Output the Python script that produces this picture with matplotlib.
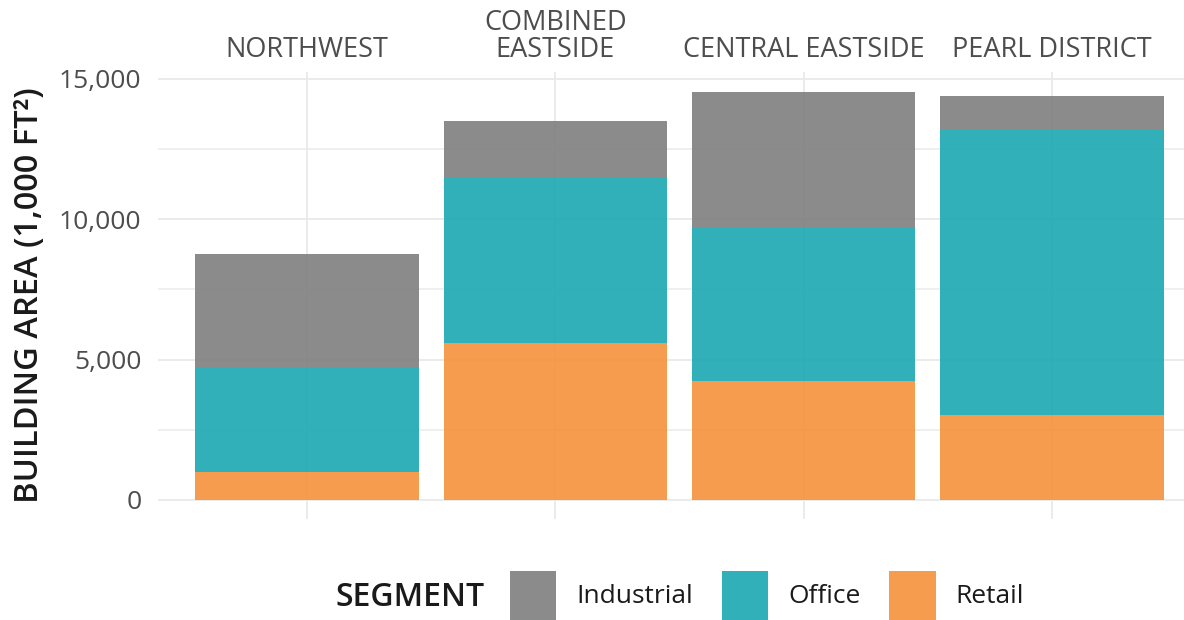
import matplotlib.pyplot as plt
import numpy as np
from matplotlib.patches import Patch
from matplotlib.ticker import FuncFormatter, MultipleLocator

plt.rcParams['font.family'] = ['Open Sans', 'DejaVu Sans']

districts = ["NORTHWEST", "COMBINED\nEASTSIDE", "CENTRAL EASTSIDE", "PEARL DISTRICT"]
retail = [1000, 5600, 4250, 3030]
office = [3700, 5900, 5450, 10200]
industrial = [4050, 2000, 4850, 1150]

segments = ["Industrial", "Office", "Retail"]
colors = {"Industrial": "#7f7f7f", "Office": "#1ca8b3", "Retail": "#f4913b"}

fig = plt.figure(figsize=(11.84, 6.2), dpi=100)
ax = fig.add_axes([0.1334, 0.163, 0.881, 0.721])

x = np.arange(len(districts))
retail = np.array(retail)
office = np.array(office)
industrial = np.array(industrial)

ax.bar(x, retail, width=0.9, color=colors["Retail"], alpha=0.9, zorder=2)
ax.bar(x, office, width=0.9, bottom=retail, color=colors["Office"], alpha=0.9, zorder=2)
ax.bar(x, industrial, width=0.9, bottom=retail + office, color=colors["Industrial"], alpha=0.9, zorder=2)

ax.set_xlim(-0.6, len(districts) - 0.4)
ax.set_ylim(-680, 15250)

# category labels on top
ax.xaxis.tick_top()
ax.set_xticks(x)
ax.set_xticklabels(districts, fontsize=19.5, color="#4d4d4d", linespacing=0.92)
ax.tick_params(axis='x', length=0, pad=6)

ax.yaxis.set_major_locator(MultipleLocator(5000))
ax.yaxis.set_minor_locator(MultipleLocator(2500))
ax.yaxis.set_major_formatter(FuncFormatter(lambda v, p: f"{v:,.0f}"))
ax.tick_params(axis='y', which='both', length=0, pad=12, labelsize=19, labelcolor="#4d4d4d")

ax.grid(True, which='major', color="#ebebeb", linewidth=1.4, zorder=0)
ax.grid(True, which='minor', axis='y', color="#ebebeb", linewidth=1.1, zorder=0)
ax.set_axisbelow(True)
for s in ax.spines.values():
    s.set_visible(False)

ax.set_ylabel("BUILDING AREA (1,000 FT²)", fontsize=23.5, color="#1a1a1a",
              fontweight='semibold', labelpad=9)

handles = [Patch(facecolor=colors[s], alpha=0.9, edgecolor='none') for s in segments]
fig.legend(handles, segments, loc='center left', bbox_to_anchor=(0.422, 0.04),
           ncol=3, frameon=False, fontsize=19, handlelength=1.75, handleheight=2.5,
           handletextpad=0.75, columnspacing=1.1, borderaxespad=0, labelcolor="#1a1a1a")
fig.text(0.283, 0.037, "SEGMENT", fontsize=23, fontweight='semibold',
         color="#1a1a1a", va='center', ha='left')

fig.savefig("out.png", dpi=100)
